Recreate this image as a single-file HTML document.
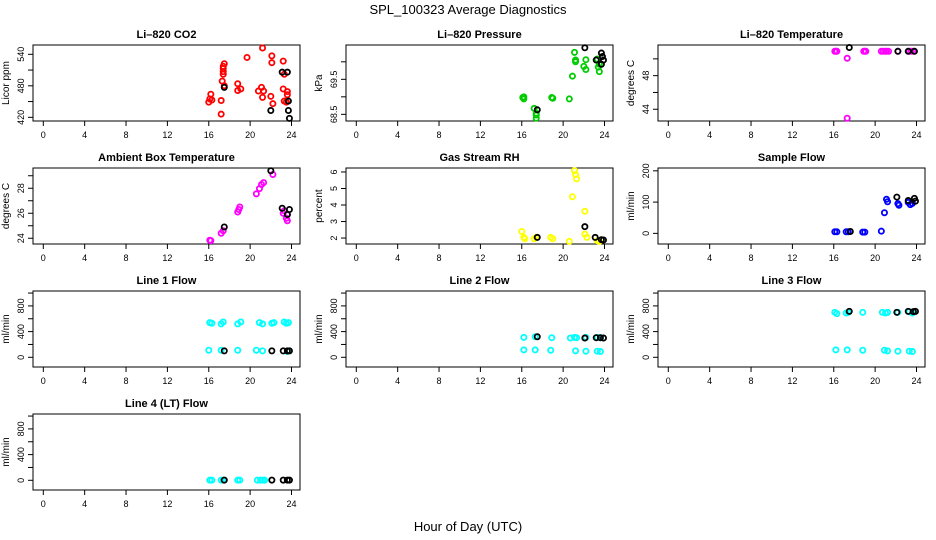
<!DOCTYPE html>
<html><head><meta charset="utf-8">
<style>
html,body{margin:0;padding:0;background:#fff;}
svg{display:block;font-family:"Liberation Sans",sans-serif;}
</style></head>
<body>
<svg id="chart" width="936" height="540" viewBox="0 0 936 540" xmlns="http://www.w3.org/2000/svg">
<text x="468" y="14" text-anchor="middle" font-size="13">SPL_100323  Average Diagnostics</text>
<text x="468" y="531" text-anchor="middle" font-size="13">Hour of Day (UTC)</text>
</svg>
<script>
// ---- data (hours, values) ----
const xTicks = [0,4,8,12,16,20,24];

const co2Hours = [16.2,16.1,16.0,16.3,17.2,17.2,17.3,17.4,17.4,17.4,17.4,17.5,17.5,18.8,18.8,19.1,19.7,21.2,20.8,21.1,21.2,21.3,22.1,22.1,22.0,22.2,23.2,23.3,23.2,23.6,23.3,23.5,23.6];
const co2Values = [464,455,449,453,452,426,489,507,513,517,502,522,480,484,471,474,534,552,470,477,458,470,537,524,460,446,527,502,474,469,451,449,463];
const co2BlackHours = [17.5,23.1,23.6,22.0,23.7,23.7,23.8];
const co2BlackValues = [477,506,506,433,451,433,418];

const presHours = [16.1,16.2,16.2,17.2,17.4,17.4,17.4,18.9,19.0,20.6,20.9,21.1,21.2,21.2,22.2,22.0,22.2,23.3,23.4,23.5,23.5];
const presValues = [68.98,68.94,69.0,68.67,68.48,68.39,68.53,68.98,68.96,68.94,69.59,70.27,70.0,70.05,70.06,69.87,69.78,70.08,69.85,69.72,69.93];
const presBlackHours = [17.5,22.1,23.2,23.7,23.8,23.9,23.7];
const presBlackValues = [68.63,70.4,70.05,70.25,70.15,70.05,69.93];

const tempHours = [16.1,16.2,16.3,18.9,19.0,19.1,20.6,20.8,21.0,21.1,21.3,22.2,23.3,23.5,23.7,17.3,17.3];
const tempValues = [50.9,50.9,50.9,50.9,50.9,50.9,50.9,50.9,50.9,50.9,50.9,50.9,50.9,50.9,50.9,50.07,42.93];
const tempBlackHours = [17.5,22.2,23.2,23.8];
const tempBlackValues = [51.35,50.9,50.9,50.9];

const ambHours = [16.1,16.2,17.2,17.4,18.8,18.9,19.0,20.6,20.9,21.1,21.3,22.2,23.2,23.5,23.6,23.6,23.3];
const ambValues = [23.84,23.81,24.4,24.6,26.1,26.3,26.5,27.55,27.97,28.3,28.45,29.1,26.0,25.6,25.4,25.9,26.2];
const ambBlackHours = [17.5,22.0,23.1,23.6,23.8];
const ambBlackValues = [24.9,29.4,26.4,25.9,26.3];

const rhHours = [16.0,16.2,16.3,17.2,17.4,18.8,19.0,20.6,20.9,21.1,21.2,21.3,22.1,22.1,22.3,23.3,23.5];
const rhValues = [2.4,2.04,1.96,1.96,2.04,2.04,1.96,1.8,4.5,6.08,5.84,5.58,3.62,2.24,2.04,1.84,1.8];
const rhBlackHours = [17.5,22.1,23.1,23.7,23.9];
const rhBlackValues = [2.04,2.69,2.04,1.9,1.88];

const sfHours = [16.1,16.3,17.2,17.4,18.8,19.0,20.6,20.9,21.1,21.2,22.2,22.3,23.2,23.4,23.6];
const sfValues = [5,5,5,5,4,4,7,66,109,101,95,90,99,92,96];
const sfBlackHours = [17.6,22.1,23.2,23.8,23.9];
const sfBlackValues = [6,116,105,112,103];

const l1Hours = [16.1,16.3,17.2,17.4,18.8,19.1,20.9,21.2,22.1,22.3,23.3,23.5,23.7,16.0,17.2,18.8,20.6,21.2,23.6];
const l1Values = [540,530,520,550,520,550,540,520,530,540,550,530,540,110,110,110,110,100,90];
const l1BlackHours = [17.5,22.1,23.2,23.6,23.8];
const l1BlackValues = [100,100,100,100,100];

const l2Hours = [16.2,17.3,18.9,20.7,21.1,21.3,22.2,23.3,23.6,16.2,17.3,18.8,21.2,22.2,23.3,23.6];
const l2Values = [310,320,305,300,310,305,310,310,305,115,115,110,100,95,95,90];
const l2BlackHours = [17.5,22.1,23.2,23.6,23.9];
const l2BlackValues = [320,300,305,305,300];

const l3Hours = [16.1,16.3,17.2,17.4,18.8,20.7,21.0,21.2,22.2,23.3,23.6,16.2,17.3,18.8,20.9,21.2,22.2,23.3,23.6];
const l3Values = [700,680,690,700,700,700,690,700,700,710,690,115,115,110,110,100,95,95,90];
const l3BlackHours = [17.5,22.1,23.2,23.7,23.9];
const l3BlackValues = [715,700,715,710,715];

const l4Hours = [16.1,16.3,17.2,17.4,18.8,19.0,20.7,21.0,21.2,21.4];
const l4Values = [2,2,2,2,2,2,2,2,2,2];
const l4BlackHours = [17.5,22.1,23.2,23.6,23.8];
const l4BlackValues = [3,3,3,3,3];

const panels = [
 {name:'li820-co2',title:'Li\u2013820 CO2',ylab:'Licor ppm',col:0,row:0,ymin:413,ymax:557.7,ticks:[420,450,480,510,540],labels:[420,480,540],color:'#ff0000',h:co2Hours,v:co2Values,bh:co2BlackHours,bv:co2BlackValues},
 {name:'li820-pressure',title:'Li\u2013820 Pressure',ylab:'kPa',col:1,row:0,ymin:68.31,ymax:70.48,ticks:[68.5,69,69.5,70],labels:[68.5,69.5],color:'#00cc00',h:presHours,v:presValues,bh:presBlackHours,bv:presBlackValues},
 {name:'li820-temperature',title:'Li\u2013820 Temperature',ylab:'degrees C',col:2,row:0,ymin:42.6,ymax:51.65,ticks:[44,46,48,50],labels:[44,48],color:'#ff00ff',h:tempHours,v:tempValues,bh:tempBlackHours,bv:tempBlackValues},
 {name:'ambient-box-temperature',title:'Ambient Box Temperature',ylab:'degrees C',col:0,row:1,ymin:23.54,ymax:29.62,ticks:[24,25,26,27,28,29],labels:[24,26,28],color:'#ff00ff',h:ambHours,v:ambValues,bh:ambBlackHours,bv:ambBlackValues},
 {name:'gas-stream-rh',title:'Gas Stream RH',ylab:'percent',col:1,row:1,ymin:1.64,ymax:6.24,ticks:[2,3,4,5,6],labels:[2,3,4,5,6],color:'#ffff00',h:rhHours,v:rhValues,bh:rhBlackHours,bv:rhBlackValues},
 {name:'sample-flow',title:'Sample Flow',ylab:'ml/min',col:2,row:1,ymin:-34,ymax:209,ticks:[0,100,200],labels:[0,100,200],color:'#0000ff',h:sfHours,v:sfValues,bh:sfBlackHours,bv:sfBlackValues},
 {name:'line1-flow',title:'Line 1 Flow',ylab:'ml/min',col:0,row:2,ymin:-151,ymax:1032,ticks:[0,200,400,600,800,1000],labels:[0,400,800],color:'#00ffff',h:l1Hours,v:l1Values,bh:l1BlackHours,bv:l1BlackValues},
 {name:'line2-flow',title:'Line 2 Flow',ylab:'ml/min',col:1,row:2,ymin:-151,ymax:1032,ticks:[0,200,400,600,800,1000],labels:[0,400,800],color:'#00ffff',h:l2Hours,v:l2Values,bh:l2BlackHours,bv:l2BlackValues},
 {name:'line3-flow',title:'Line 3 Flow',ylab:'ml/min',col:2,row:2,ymin:-151,ymax:1032,ticks:[0,200,400,600,800,1000],labels:[0,400,800],color:'#00ffff',h:l3Hours,v:l3Values,bh:l3BlackHours,bv:l3BlackValues},
 {name:'line4-flow',title:'Line 4 (LT) Flow',ylab:'ml/min',col:0,row:3,ymin:-151,ymax:1032,ticks:[0,200,400,600,800,1000],labels:[0,400,800],color:'#00ffff',h:l4Hours,v:l4Values,bh:l4BlackHours,bv:l4BlackValues}
];

const NS='http://www.w3.org/2000/svg';
const svg=document.getElementById('chart');
const colLeft=[33,346,658], boxW=267, rowTop=[45,168,291,414], boxH=76;
function mk(tag,attrs,parent){const e=document.createElementNS(NS,tag);for(const k in attrs)e.setAttribute(k,attrs[k]);parent.appendChild(e);return e;}

panels.forEach(p=>{
  const L=colLeft[p.col], T=rowTop[p.row], B=T+boxH;
  const g=mk('g',{},svg);
  
  
  const xs=h=>L+10.3+h*(248.2/24);
  const ys=v=>B-(v-p.ymin)/(p.ymax-p.ymin)*boxH;
  const box=mk('rect',{x:L,y:T,width:boxW,height:boxH,fill:'none',stroke:'#000','stroke-width':1},g);
  
  
  const t=mk('text',{x:L+boxW/2,y:T-7,'text-anchor':'middle','font-size':11,'font-weight':'bold'},g);
  t.textContent=p.title;
  
  
  xTicks.forEach(h=>{
    const x=xs(h);
    const tk=mk('line',{x1:x,x2:x,y1:B,y2:B+5,stroke:'#000'},g);
    
    
    const tl=mk('text',{x:x,y:B+17,'text-anchor':'middle','font-size':9},g);
    tl.textContent=h;
    
    
  });
  p.ticks.forEach(v=>{
    const y=ys(v);
    const tk=mk('line',{x1:L-5,x2:L,y1:y,y2:y,stroke:'#000'},g);
    
    
  });
  p.labels.forEach(v=>{
    const y=ys(v);
    const tl=mk('text',{x:L-9,y:y,'text-anchor':'middle','font-size':9,transform:`rotate(-90 ${L-9} ${y})`},g);
    tl.textContent=v;
    
    
  });
  const yl=mk('text',{x:L-24,y:T+boxH/2,'text-anchor':'middle','font-size':10,transform:`rotate(-90 ${L-24} ${T+boxH/2})`},g);
  yl.textContent=p.ylab;
  
  
  p.h.forEach((h,i)=>{
    const c=mk('circle',{cx:xs(h),cy:ys(p.v[i]),r:2.6,fill:'none',stroke:p.color,'stroke-width':1.8},g);
    
    
  });
  p.bh.forEach((h,i)=>{
    const c=mk('circle',{cx:xs(h),cy:ys(p.bv[i]),r:2.6,fill:'none',stroke:'#000','stroke-width':1.8},g);
    
    
  });
});
</script>
</body></html>
